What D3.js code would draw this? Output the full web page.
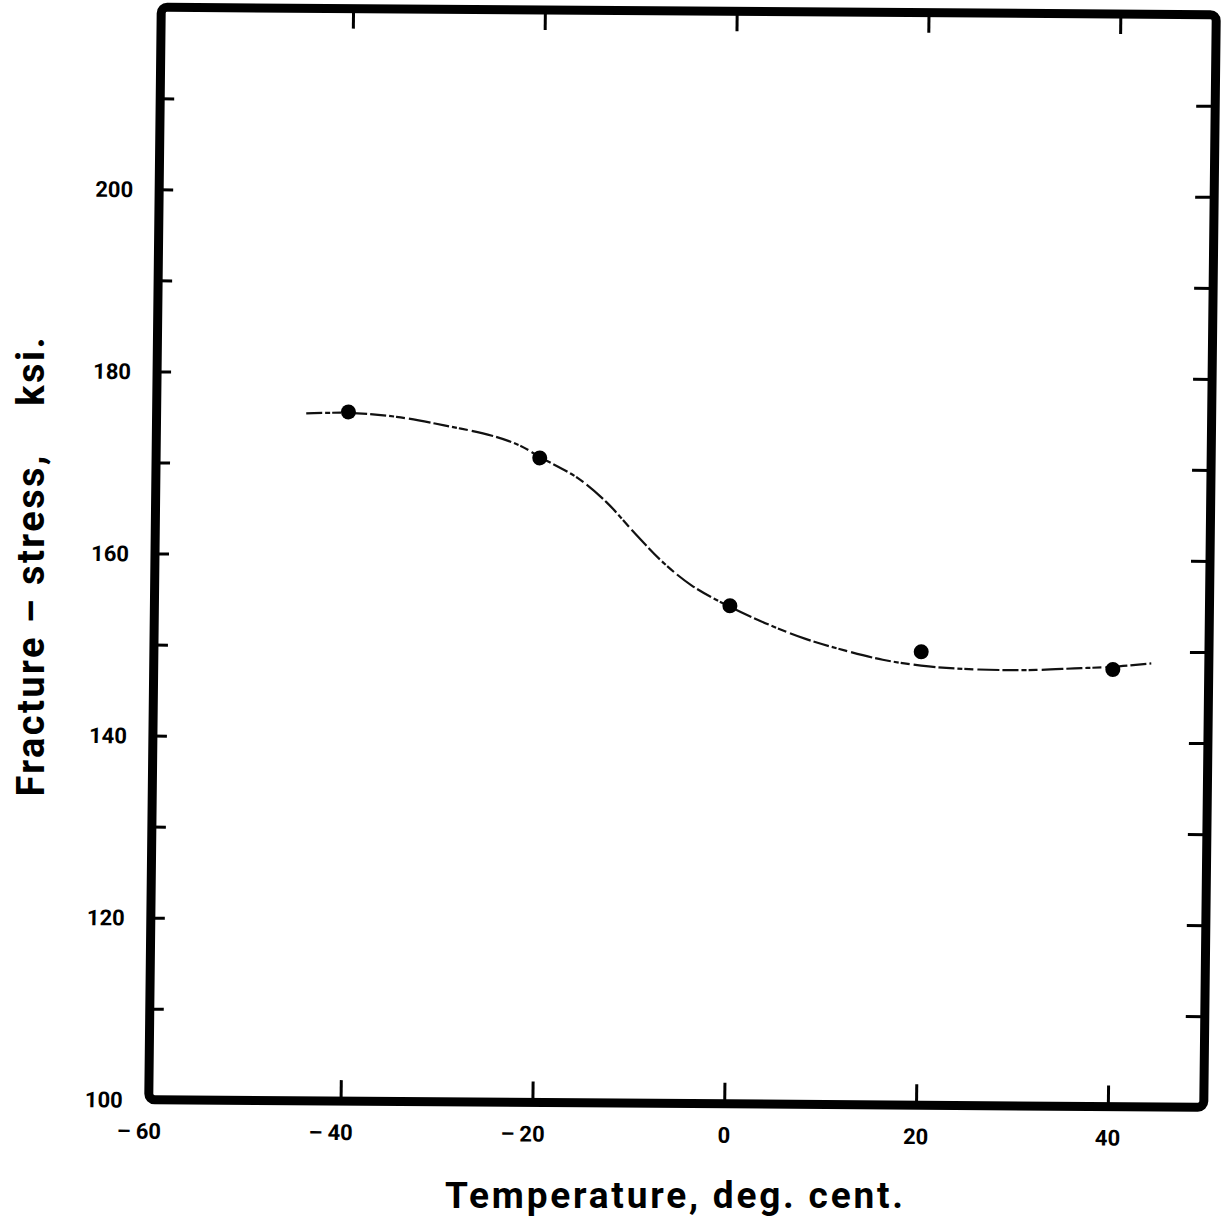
<!DOCTYPE html>
<html>
<head>
<meta charset="utf-8">
<script src="https://cdn.jsdelivr.net/npm/d3@7"></script>
<style>
  html, body { margin: 0; padding: 0; background: #fff; }
  svg { display: block; }
  text { font-family: Roboto, "DejaVu Sans", sans-serif; font-weight: 700; fill: #000; }
</style>
</head>
<body>
<svg id="chart" width="1230" height="1224"></svg>
<script>
// Measured fracture stress (ksi) at each test temperature (deg C)
const temps  = [-40, -20, 0, 20, 40];
const stress = [175.7, 170.8, 154.7, 149.8, 148.0];

// Hand-faired curve through the measurements
const curveTemp   = [-44.4, -40, -35, -30, -25, -22, -20, -16, -13, -10, -7, -4, -0.2, 4, 8, 12, 16, 20.8, 26, 32, 36, 40, 44];
const curveStress = [175.5, 175.6, 175.2, 174.3, 173.2, 172.1, 170.9, 168.6, 166.0, 162.6, 159.4, 156.9, 154.7, 152.7, 151.1, 149.9, 148.9, 148.2, 147.9, 147.9, 148.1, 148.3, 148.7];

// Axis ticks and labels
const xLabelTicks = [-60, -40, -20, 0, 20, 40];
const xEdgeTicks  = [-40, -20, 0, 20, 40];
const yLabelTicks = [100, 120, 140, 160, 180, 200];
const yEdgeTicks  = [110, 120, 130, 140, 150, 160, 170, 180, 190, 200, 210];

const svg = d3.select("#chart");

const plotL = 155, plotR = 1210, plotT = 11, plotB = 1103.5;
const x = d3.scaleLinear().domain([-60, 50]).range([plotL, plotR]);
const y = d3.scaleLinear().domain([100, 220]).range([plotB, plotT]);

// The whole plate sits very slightly askew on the sheet
const cx = (plotL + plotR) / 2, cy = (plotT + plotB) / 2;
const plate = svg.append("g")
  .attr("transform", `translate(${cx},${cy}) matrix(1,0.00711,-0.01145,1,0,0) translate(${-cx},${-cy})`);

// Inward ticks on all four edges
function styleTicks(g) {
  g.select(".domain").remove();
  g.selectAll(".tick line").attr("stroke", "#000").attr("stroke-width", 3);
  g.selectAll(".tick text").remove();
}
plate.append("g").attr("transform", `translate(${plotL},0)`)
  .call(d3.axisLeft(y).tickValues(yEdgeTicks).tickSize(-14)).call(styleTicks);
plate.append("g").attr("transform", `translate(${plotR},0)`)
  .call(d3.axisRight(y).tickValues(yEdgeTicks).tickSize(-19)).call(styleTicks);
plate.append("g").attr("transform", `translate(0,${plotB})`)
  .call(d3.axisBottom(x).tickValues(xEdgeTicks).tickSize(-21)).call(styleTicks);
plate.append("g").attr("transform", `translate(0,${plotT})`)
  .call(d3.axisTop(x).tickValues(xEdgeTicks).tickSize(-20)).call(styleTicks);

// Frame
plate.append("rect")
  .attr("x", plotL).attr("y", plotT)
  .attr("width", plotR - plotL).attr("height", plotB - plotT)
  .attr("rx", 6).attr("ry", 6)
  .attr("fill", "none").attr("stroke", "#000").attr("stroke-width", 9);

// Y tick labels
plate.append("g").selectAll("text").data(yLabelTicks).join("text")
  .attr("x", plotL - 26)
  .attr("y", d => y(d))
  .attr("dy", "0.36em")
  .attr("text-anchor", "end")
  .attr("font-size", 22)
  .text(d => d);

// X tick labels: digits centred on the tick, minus sign hanging to the left
const xl = plate.append("g").selectAll("g").data(xLabelTicks).join("g")
  .attr("transform", d => `translate(${x(d)},${plotB + 39})`);
xl.append("text")
  .attr("class", "digits")
  .attr("text-anchor", "middle")
  .attr("font-size", 22)
  .text(d => Math.abs(d));
xl.filter(d => d < 0).append("text")
  .attr("text-anchor", "end")
  .attr("font-size", 22)
  .attr("x", function () {
    const w = this.parentNode.querySelector(".digits").getComputedTextLength();
    return -w / 2 - 5;
  })
  .text("\u2013");

// Faired curve
const line = d3.line()
  .x(d => x(d[0]))
  .y(d => y(d[1]))
  .curve(d3.curveCatmullRom.alpha(0.5));
plate.append("path")
  .datum(d3.zip(curveTemp, curveStress))
  .attr("d", line)
  .attr("fill", "none")
  .attr("stroke", "#111")
  .attr("stroke-width", 2.2)
  .attr("stroke-dasharray", "16 3 5 2 9 4 22 3");

// Measured points
plate.append("g").selectAll("circle").data(d3.zip(temps, stress)).join("circle")
  .attr("cx", d => x(d[0]))
  .attr("cy", d => y(d[1]))
  .attr("r", 7.5)
  .attr("fill", "#000");

// Axis titles
svg.append("text")
  .attr("x", 674).attr("y", 1208)
  .attr("text-anchor", "middle")
  .attr("font-size", 37)
  .attr("textLength", 458)
  .attr("lengthAdjust", "spacing")
  .text("Temperature, deg. cent.");

svg.append("text")
  .attr("transform", "translate(44,567) rotate(-90)")
  .attr("text-anchor", "middle")
  .attr("font-size", 38)
  .attr("textLength", 459)
  .attr("lengthAdjust", "spacing")
  .style("white-space", "pre")
  .text("Fracture \u2013 stress,    ksi.");
</script>
</body>
</html>
